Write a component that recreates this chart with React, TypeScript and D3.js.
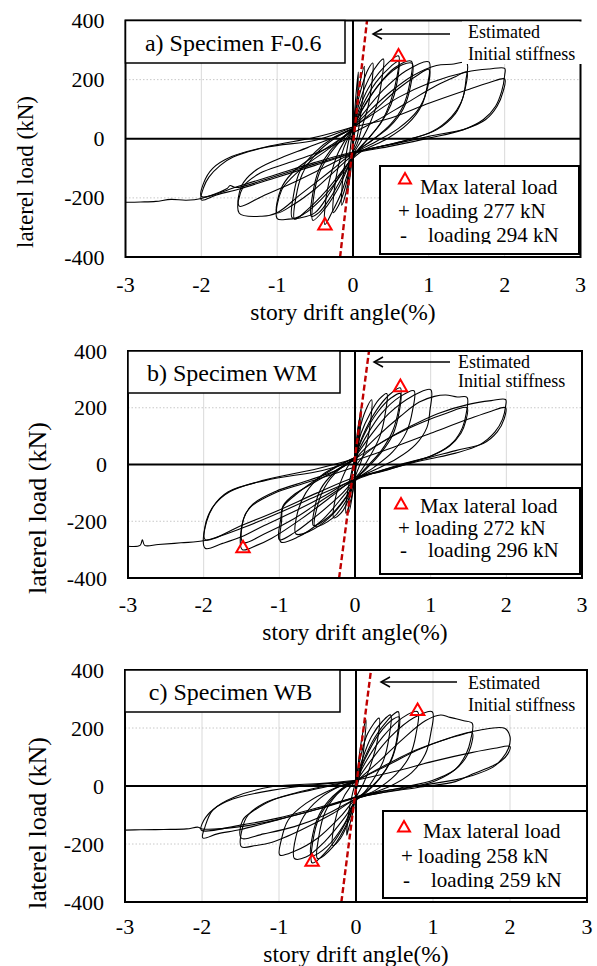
import React from 'react';
import * as d3 from 'd3';

type Pt = [number, number];

const xTicks = [-3, -2, -1, 0, 1, 2, 3];
const yTicks = [-400, -200, 0, 200, 400];
const gridX = [-2, -1, 1, 2];
const gridY = [-200, 200];

// ---------- Specimen F-0.6 hysteresis loops (drift %, kN) ----------
const loopsF06: Pt[][] = [
  [[0, 0], [0.03, 120], [0.07, 226], [0.06, 150], [0.03, 40], [0, -30], [-0.03, -110], [-0.07, -175], [-0.06, -100], [-0.03, -20], [0, 30]],
  [[0, 30], [0.05, 130], [0.1, 200], [0.15, 245], [0.14, 170], [0.1, 80], [0.05, 0], [0, -40], [-0.05, -120], [-0.1, -190], [-0.15, -225], [-0.14, -150], [-0.1, -70], [-0.05, 0], [0, 35]],
  [[0, 35], [0.05, 110], [0.12, 180], [0.2, 235], [0.26, 256], [0.25, 190], [0.2, 110], [0.12, 40], [0.05, -20], [0, -45], [-0.05, -110], [-0.12, -180], [-0.2, -230], [-0.26, -250], [-0.25, -180], [-0.2, -100], [-0.12, -30], [-0.05, 10], [0, 35]],
  [[0, 35], [0.06, 100], [0.15, 170], [0.28, 235], [0.4, 270], [0.38, 200], [0.32, 120], [0.22, 50], [0.1, -10], [0.02, -45], [-0.05, -100], [-0.15, -180], [-0.28, -250], [-0.37, -290], [-0.36, -210], [-0.3, -130], [-0.2, -50], [-0.08, 5], [0, 35]],
  [[0, 35], [0.08, 100], [0.2, 170], [0.4, 240], [0.6, 280], [0.58, 210], [0.5, 130], [0.38, 60], [0.2, 0], [0.05, -45], [-0.05, -90], [-0.2, -170], [-0.38, -240], [-0.53, -276], [-0.52, -200], [-0.45, -120], [-0.3, -50], [-0.12, 5], [0, 35]],
  [[0, 35], [0.12, 110], [0.3, 190], [0.5, 245], [0.6, 262], [0.58, 190], [0.5, 115], [0.36, 50], [0.18, -5], [0.04, -45], [-0.1, -110], [-0.3, -200], [-0.45, -250], [-0.55, -262], [-0.53, -185], [-0.45, -105], [-0.3, -40], [-0.1, 8], [0, 35]],
  [[0, 35], [0.1, 90], [0.3, 170], [0.55, 240], [0.77, 262], [0.75, 190], [0.66, 110], [0.5, 50], [0.28, 0], [0.05, -45], [-0.1, -95], [-0.35, -175], [-0.6, -240], [-0.77, -272], [-0.75, -195], [-0.67, -120], [-0.5, -55], [-0.25, 0], [0, 35]],
  [[0, 35], [0.15, 110], [0.4, 200], [0.65, 250], [0.78, 255], [0.76, 180], [0.66, 100], [0.48, 40], [0.25, -5], [0.04, -45], [-0.15, -120], [-0.4, -200], [-0.65, -255], [-0.8, -268], [-0.78, -185], [-0.7, -110], [-0.5, -45], [-0.25, 5], [0, 35]],
  [[0, 38], [0.15, 90], [0.4, 165], [0.7, 230], [1.0, 260], [0.98, 180], [0.9, 110], [0.72, 50], [0.45, 0], [0.1, -45], [-0.1, -95], [-0.3, -180], [-0.5, -250], [-0.7, -268], [-0.85, -272], [-1.0, -270], [-0.94, -173], [-0.8, -130], [-0.6, -85], [-0.3, -30], [0, 35]],
  [[0, 35], [0.3, 100], [0.6, 170], [0.85, 215], [1.0, 235], [0.97, 160], [0.85, 95], [0.6, 35], [0.3, -10], [0.05, -45], [-0.2, -100], [-0.5, -170], [-0.8, -225], [-1.0, -250], [-0.95, -170], [-0.8, -115], [-0.55, -65], [-0.25, -15], [0, 30]],
  [[0, 38], [0.2, 90], [0.5, 160], [0.8, 215], [1.1, 248], [1.3, 252], [1.5, 256], [1.49, 200], [1.45, 140], [1.35, 85], [1.1, 30], [0.7, -5], [0.3, -30], [0, -50], [-0.3, -110], [-0.7, -190], [-1.0, -250], [-1.2, -262], [-1.5, -252], [-1.45, -163], [-1.23, -117], [-0.87, -83], [-0.5, -50], [-0.2, -15], [0, 10]],
  [[0, 20], [0.3, 60], [0.7, 120], [1.1, 180], [1.35, 210], [1.5, 226], [1.48, 170], [1.42, 120], [1.3, 75], [1.05, 25], [0.7, -5], [0.3, -30], [0, -50], [-0.4, -100], [-0.8, -150], [-1.2, -195], [-1.5, -228], [-1.47, -160], [-1.3, -110], [-1.0, -70], [-0.6, -30], [-0.2, 10], [0, 35]],
  [[0, 40], [0.3, 90], [0.6, 140], [1.0, 188], [1.5, 226], [1.8, 236], [2.0, 238], [2.0, 215], [1.96, 160], [1.88, 110], [1.72, 65], [1.45, 30], [1.0, 2], [0.5, -25], [0, -50], [-0.5, -90], [-1.0, -130], [-1.5, -170], [-1.8, -190], [-2.0, -207], [-1.97, -165], [-1.9, -130], [-1.75, -90], [-1.58, -62], [-1.13, -28], [-0.48, -4], [0, 40]],
  [[0, 40], [0.5, 70], [1.0, 120], [1.5, 165], [1.8, 190], [2.0, 202], [1.98, 160], [1.9, 110], [1.75, 65], [1.5, 35], [1.0, 8], [0.5, -20], [0, -45], [-0.5, -80], [-1.0, -120], [-1.5, -160], [-2.0, -195], [-1.97, -150], [-1.85, -100], [-1.6, -60], [-1.1, -25], [-0.5, 5], [0, 40]],
  [[0.03, -45], [-0.5, -85], [-1.0, -125], [-1.55, -165], [-1.62, -158], [-1.66, -168], [-2.0, -202], [-2.2, -208], [-2.4, -205], [-2.6, -212], [-2.8, -214], [-3.0, -215]],
];

// ---------- Specimen WM ----------
const loopsWM: Pt[][] = [
  [[0, 0], [0.03, 110], [0.06, 160], [0.05, 100], [0.02, 20], [0, -30], [-0.03, -100], [-0.08, -168], [-0.07, -100], [-0.03, -20], [0, 25]],
  [[0, 25], [0.04, 120], [0.08, 200], [0.07, 130], [0.03, 30], [0, -40], [-0.05, -120], [-0.12, -172], [-0.1, -100], [-0.04, -20], [0, 25]],
  [[0, 25], [0.06, 120], [0.14, 190], [0.22, 228], [0.21, 160], [0.16, 80], [0.08, 10], [0, -45], [-0.08, -120], [-0.18, -170], [-0.28, -188], [-0.26, -120], [-0.18, -55], [-0.08, 0], [0, 25]],
  [[0, 25], [0.08, 110], [0.2, 180], [0.32, 230], [0.42, 250], [0.4, 180], [0.33, 100], [0.2, 30], [0.06, -30], [0, -50], [-0.1, -120], [-0.3, -190], [-0.53, -218], [-0.5, -150], [-0.4, -80], [-0.22, -20], [-0.06, 10], [0, 25]],
  [[0, 25], [0.1, 100], [0.28, 190], [0.45, 245], [0.6, 270], [0.58, 200], [0.5, 120], [0.35, 50], [0.15, -10], [0.02, -50], [-0.1, -110], [-0.35, -190], [-0.6, -235], [-0.78, -245], [-0.76, -170], [-0.65, -100], [-0.45, -40], [-0.2, 0], [0, 25]],
  [[0, 25], [0.12, 105], [0.3, 185], [0.48, 235], [0.6, 250], [0.58, 180], [0.5, 105], [0.34, 40], [0.15, -15], [0.02, -50], [-0.12, -115], [-0.35, -185], [-0.55, -215], [-0.53, -150], [-0.45, -85], [-0.28, -30], [-0.1, 5], [0, 25]],
  [[0, 25], [0.15, 100], [0.35, 180], [0.6, 240], [0.78, 260], [0.76, 190], [0.68, 115], [0.5, 45], [0.25, -10], [0.03, -50], [-0.15, -110], [-0.45, -200], [-0.75, -255], [-0.98, -273], [-0.97, -200], [-0.95, -150], [-0.8, -110], [-0.55, -60], [-0.25, -10], [0, 25]],
  [[0, 25], [0.2, 100], [0.45, 180], [0.75, 240], [1.0, 264], [0.99, 190], [0.95, 130], [0.8, 70], [0.55, 20], [0.25, -20], [0.02, -50], [-0.2, -110], [-0.55, -190], [-0.8, -240], [-1.0, -265], [-0.98, -190], [-0.95, -145], [-0.8, -105], [-0.55, -65], [-0.25, -20], [0, 20]],
  [[0, 20], [0.3, 100], [0.6, 170], [0.85, 220], [1.05, 240], [1.2, 245], [1.35, 238], [1.48, 237], [1.47, 180], [1.42, 130], [1.3, 80], [1.05, 35], [0.7, 5], [0.3, -25], [0, -50], [-0.3, -110], [-0.7, -190], [-1.1, -260], [-1.3, -285], [-1.49, -300], [-1.48, -197], [-1.38, -150], [-1.08, -103], [-0.68, -67], [-0.3, -35], [0, -9]],
  [[0, -9], [0.15, 40], [0.5, 100], [0.9, 150], [1.2, 180], [1.48, 200], [1.46, 150], [1.4, 110], [1.25, 65], [1.0, 30], [0.6, 0], [0.25, -30], [0, -55], [-0.4, -120], [-0.8, -190], [-1.2, -245], [-1.48, -275], [-1.47, -190], [-1.35, -140], [-1.05, -95], [-0.6, -55], [-0.2, -15], [0, 20]],
  [[0, 20], [0.3, 70], [0.7, 130], [1.1, 180], [1.5, 212], [1.8, 225], [1.99, 229], [1.99, 205], [1.95, 160], [1.85, 115], [1.65, 70], [1.33, 40], [0.9, 15], [0.4, -20], [0, -50], [-0.4, -110], [-0.8, -165], [-1.2, -215], [-1.5, -255], [-1.75, -278], [-1.98, -295], [-1.98, -215], [-1.88, -150], [-1.68, -97], [-1.18, -56], [-0.43, -21], [0, 14]],
  [[0, 14], [0.5, 60], [1.0, 110], [1.5, 160], [1.8, 188], [1.99, 200], [1.97, 160], [1.88, 115], [1.7, 75], [1.33, 49], [0.83, 14], [0.32, -27], [0, -45], [-0.5, -100], [-1.0, -160], [-1.5, -215], [-1.98, -265], [-1.96, -200], [-1.85, -140], [-1.65, -95], [-1.2, -55], [-0.5, -15], [0, 20]],
  [[0.02, -50], [-0.5, -110], [-1.0, -170], [-1.5, -225], [-1.98, -268], [-2.3, -276], [-2.6, -282], [-2.78, -285], [-2.81, -265], [-2.84, -285], [-3.0, -288]],
];

// ---------- Specimen WB ----------
const loopsWB: Pt[][] = [
  [[0, 0], [0.05, 120], [0.1, 200], [0.13, 228], [0.11, 150], [0.06, 50], [0, -20], [-0.04, -90], [-0.1, -150], [-0.12, -170], [-0.1, -100], [-0.04, -20], [0, 15]],
  [[0, 15], [0.06, 100], [0.15, 180], [0.3, 234], [0.28, 160], [0.2, 80], [0.1, 10], [0, -40], [-0.08, -110], [-0.2, -180], [-0.3, -205], [-0.28, -130], [-0.2, -60], [-0.08, -5], [0, 15]],
  [[0, 15], [0.08, 90], [0.2, 170], [0.35, 225], [0.45, 245], [0.43, 170], [0.36, 90], [0.22, 20], [0.08, -30], [0, -45], [-0.1, -120], [-0.3, -210], [-0.5, -250], [-0.48, -170], [-0.4, -90], [-0.25, -30], [-0.08, 5], [0, 15]],
  [[0, 15], [0.1, 90], [0.25, 170], [0.42, 230], [0.5, 250], [0.55, 256], [0.54, 180], [0.47, 100], [0.32, 30], [0.12, -25], [0, -45], [-0.12, -120], [-0.35, -215], [-0.57, -265], [-0.56, -190], [-0.48, -110], [-0.3, -40], [-0.1, 5], [0, 15]],
  [[0, 15], [0.12, 95], [0.3, 180], [0.48, 230], [0.56, 238], [0.54, 165], [0.46, 90], [0.3, 25], [0.1, -25], [0, -45], [-0.15, -130], [-0.38, -210], [-0.58, -240], [-0.56, -165], [-0.47, -95], [-0.3, -35], [-0.1, 5], [0, 15]],
  [[0, 15], [0.12, 80], [0.35, 170], [0.6, 235], [0.8, 256], [0.78, 180], [0.7, 105], [0.52, 40], [0.25, -15], [0.02, -45], [-0.15, -110], [-0.4, -190], [-0.65, -245], [-0.8, -250], [-0.78, -175], [-0.68, -105], [-0.48, -45], [-0.2, 0], [0, 15]],
  [[0, 15], [0.2, 90], [0.45, 170], [0.75, 235], [0.99, 256], [0.97, 180], [0.9, 110], [0.72, 45], [0.45, 0], [0.15, -30], [0, -45], [-0.2, -105], [-0.5, -180], [-0.8, -225], [-0.99, -238], [-0.97, -186], [-0.88, -117], [-0.65, -60], [-0.3, -10], [0, 15]],
  [[0, 15], [0.3, 85], [0.6, 160], [0.9, 225], [1.1, 245], [1.2, 238], [1.3, 232], [1.4, 225], [1.51, 216], [1.49, 160], [1.43, 110], [1.3, 60], [1.05, 20], [0.7, -5], [0.3, -25], [0, -45], [-0.3, -95], [-0.7, -150], [-1.1, -195], [-1.3, -205], [-1.49, -209], [-1.47, -140], [-1.4, -100], [-1.2, -60], [-0.8, -25], [-0.3, 5], [0, 18]],
  [[0, 18], [0.3, 60], [0.7, 115], [1.1, 155], [1.35, 175], [1.51, 183], [1.49, 135], [1.42, 95], [1.28, 55], [1.0, 20], [0.6, -5], [0.25, -25], [0, -45], [-0.4, -100], [-0.8, -140], [-1.2, -165], [-1.49, -180], [-1.47, -117], [-1.3, -80], [-1.08, -48], [-0.6, -15], [0, 18]],
  [[0, 18], [0.4, 70], [0.8, 124], [1.2, 165], [1.6, 192], [1.93, 199], [2.0, 170], [1.98, 130], [1.9, 95], [1.78, 65], [1.5, 35], [1.29, 21], [0.8, 0], [0.3, -20], [0, -37], [-0.5, -80], [-1.0, -115], [-1.5, -150], [-1.8, -165], [-1.99, -179], [-1.96, -140], [-1.86, -83], [-1.57, -37], [-1.08, -2], [-0.43, 9], [0, 20]],
  [[0, 20], [0.5, 50], [1.0, 85], [1.5, 115], [1.8, 130], [2.0, 136], [1.97, 110], [1.88, 85], [1.78, 70], [1.5, 40], [1.29, 15], [0.8, -5], [0.3, -25], [0, -40], [-0.5, -75], [-1.0, -110], [-1.5, -135], [-2.01, -152], [-1.98, -120], [-1.85, -80], [-1.6, -45], [-1.1, -15], [-0.5, 5], [0, 15]],
  [[0, -40], [-0.5, -80], [-1.0, -115], [-1.5, -140], [-2.0, -148], [-2.05, -142], [-2.2, -148], [-2.5, -150], [-2.8, -151], [-3.0, -152]],
];

// Max lateral loads (drift %, kN) and labels
const maxPoints: Pt[][] = [
  [[0.6, 277], [-0.37, -294]],
  [[0.6, 272], [-1.48, -296]],
  [[0.8, 258], [-0.57, -262]],
];
const titles = ['a) Specimen F-0.6', 'b) Specimen WM', 'c) Specimen WB'];
const posLoads = [277, 272, 258];
const negLoads = [294, 296, 259];
// Estimated initial stiffness lines (drift %, kN)
const stiffLines: Pt[][] = [
  [[-0.17, -400], [0.185, 400]],
  [[-0.21, -400], [0.185, 400]],
  [[-0.19, -400], [0.195, 400]],
];
const allLoops = [loopsF06, loopsWM, loopsWB];

// ---------- layout (pixels) ----------
const layout = [
  { left: 125.5, right: 580.5, top: 20.5, bottom: 257, tb: [125.5, 345, 20.5, 63], titleBase: 51,
    lg: [380, 579, 166, 254], lgTri: [405, 180], lgB: [194, 218, 242], lgClip: 244,
    arrowY: 34, arrowX: [373, 450], estX: 468, estB: [38, 60], estRect: [462, 583, 21.5, 64],
    xLab: 292, xTitle: [343, 320], yTitle: [25, 172], yTitleSize: 23 },
  { left: 128, right: 582, top: 351, bottom: 578, tb: [128, 340, 351, 393], titleBase: 381,
    lg: [380, 580, 488, 574], lgTri: [401, 505], lgB: [513, 535, 557], lgClip: 572,
    arrowY: 362, arrowX: [374, 450], estX: 458, estB: [368, 387], estRect: [455, 572, 352, 391],
    xLab: 612, xTitle: [355, 640], yTitle: [37, 508], yTitleSize: 26 },
  { left: 125, right: 587, top: 670, bottom: 902, tb: [125, 340, 670, 712], titleBase: 700,
    lg: [383, 587, 811, 898], lgTri: [404, 828], lgB: [838, 863, 887], lgClip: 889,
    arrowY: 682, arrowX: [381, 457], estX: 468, estB: [689, 711], estRect: [464, 582, 671, 715],
    xLab: 934, xTitle: [356, 962], yTitle: [37, 823], yTitleSize: 26 },
];

const FONT = '"Liberation Serif", "Times New Roman", serif';
const RED = '#ff0000';
const DARKRED = '#c00000';

function Panel({ i }: { i: number }) {
  const L = layout[i];
  const x = d3.scaleLinear().domain([-3, 3]).range([L.left, L.right]);
  const y = d3.scaleLinear().domain([-400, 400]).range([L.bottom, L.top]);
  const line = d3.line<Pt>().x(d => x(d[0])).y(d => y(d[1])).curve(d3.curveCatmullRom.alpha(0.5));
  const straight = d3.line<Pt>().x(d => x(d[0])).y(d => y(d[1]));
  const tri = d3.symbol(d3.symbolTriangle, 78)();
  const triSmall = d3.symbol(d3.symbolTriangle, 62)();
  const clipId = `clip${i}`;
  const lgClipId = `lgclip${i}`;
  const [tbx0, tbx1, tby0, tby1] = L.tb;
  const [lx0, lx1, ly0, ly1] = L.lg;
  const [rx0, rx1, ry0, ry1] = L.estRect;
  return (
    <g>
      <defs>
        <clipPath id={clipId}>
          <rect x={L.left} y={L.top} width={L.right - L.left} height={L.bottom - L.top} />
        </clipPath>
        <clipPath id={lgClipId}>
          <rect x={lx0} y={ly0} width={lx1 - lx0} height={L.lgClip - ly0} />
        </clipPath>
      </defs>
      {gridX.map(v => (
        <line key={'gx' + v} x1={x(v)} x2={x(v)} y1={L.top} y2={L.bottom} stroke="#d9d9d9" strokeWidth={1} />
      ))}
      {gridY.map(v => (
        <line key={'gy' + v} x1={L.left} x2={L.right} y1={y(v)} y2={y(v)} stroke="#c8c8c8" strokeWidth={1} strokeDasharray="1.5,2" />
      ))}
      <g clipPath={`url(#${clipId})`}>
        {allLoops[i].map((lp, k) => (
          <path key={k} d={line(lp) || ''} fill="none" stroke="#000" strokeWidth={1.1} strokeLinejoin="round" />
        ))}
      </g>
      <line x1={L.left} x2={L.right} y1={y(0)} y2={y(0)} stroke="#000" strokeWidth={2} />
      <line x1={x(0)} x2={x(0)} y1={L.top} y2={L.bottom} stroke="#000" strokeWidth={2} />
      <path d={straight(stiffLines[i]) || ''} stroke={DARKRED} strokeWidth={2.4} strokeDasharray="6,3" fill="none" />
      {maxPoints[i].map((p, k) => (
        <path key={'m' + k} d={tri || ''} transform={`translate(${x(p[0])},${y(p[1])})`} fill="none" stroke={RED} strokeWidth={2} />
      ))}
      <rect x={L.left} y={L.top} width={L.right - L.left} height={L.bottom - L.top} fill="none" stroke="#000" strokeWidth={2} />
      <rect x={rx0} y={ry0} width={rx1 - rx0} height={ry1 - ry0} fill="#fff" />
      <rect x={tbx0} y={tby0} width={tbx1 - tbx0} height={tby1 - tby0} fill="#fff" stroke="#000" strokeWidth={1.5} />
      <text x={(tbx0 + tbx1) / 2 - 2} y={L.titleBase} textAnchor="middle" fontFamily={FONT} fontSize={24}>{titles[i]}</text>
      <line x1={L.arrowX[0]} x2={L.arrowX[1]} y1={L.arrowY} y2={L.arrowY} stroke="#000" strokeWidth={1.5} />
      <path d={`M${L.arrowX[0] + 9},${L.arrowY - 5}L${L.arrowX[0]},${L.arrowY}L${L.arrowX[0] + 9},${L.arrowY + 5}`} fill="none" stroke="#000" strokeWidth={1.5} />
      <text x={L.estX} y={L.estB[0]} fontFamily={FONT} fontSize={18}>Estimated</text>
      <text x={L.estX} y={L.estB[1]} fontFamily={FONT} fontSize={18}>Initial stiffness</text>
      <rect x={lx0} y={ly0} width={lx1 - lx0} height={ly1 - ly0} fill="#fff" stroke="#000" strokeWidth={2} />
      <path d={triSmall || ''} transform={`translate(${L.lgTri[0]},${L.lgTri[1]})`} fill="none" stroke={RED} strokeWidth={2} />
      <g clipPath={`url(#${lgClipId})`} fontFamily={FONT} fontSize={21}>
        <text x={lx0 + 40} y={L.lgB[0]}>Max lateral load</text>
        <text x={lx0 + 18} y={L.lgB[1]}>{`+ loading ${posLoads[i]} kN`}</text>
        <text x={lx0 + 20} y={L.lgB[2]}>-</text>
        <text x={lx0 + 48} y={L.lgB[2]}>{`loading ${negLoads[i]} kN`}</text>
      </g>
      {yTicks.map(v => (
        <text key={'yt' + v} x={L.left - 21} y={y(v) + 7.5} textAnchor="end" fontFamily={FONT} fontSize={22}>{v}</text>
      ))}
      {xTicks.map(v => (
        <text key={'xt' + v} x={x(v)} y={L.xLab} textAnchor="middle" fontFamily={FONT} fontSize={22}>{v}</text>
      ))}
      <text x={L.xTitle[0]} y={L.xTitle[1]} textAnchor="middle" fontFamily={FONT} fontSize={23.5}>story drift angle(%)</text>
      <text transform={`translate(${L.yTitle[0] + L.yTitleSize * 0.33},${L.yTitle[1]}) rotate(-90)`} textAnchor="middle" fontFamily={FONT} fontSize={L.yTitleSize}>laterel load (kN)</text>
    </g>
  );
}

export default function App() {
  return (
    <svg width={597} height={966} style={{ position: 'absolute', left: 0, top: 0, background: '#fff' }}>
      <rect x={0} y={0} width={597} height={966} fill="#fff" />
      {[0, 1, 2].map(i => <Panel key={i} i={i} />)}
    </svg>
  );
}
